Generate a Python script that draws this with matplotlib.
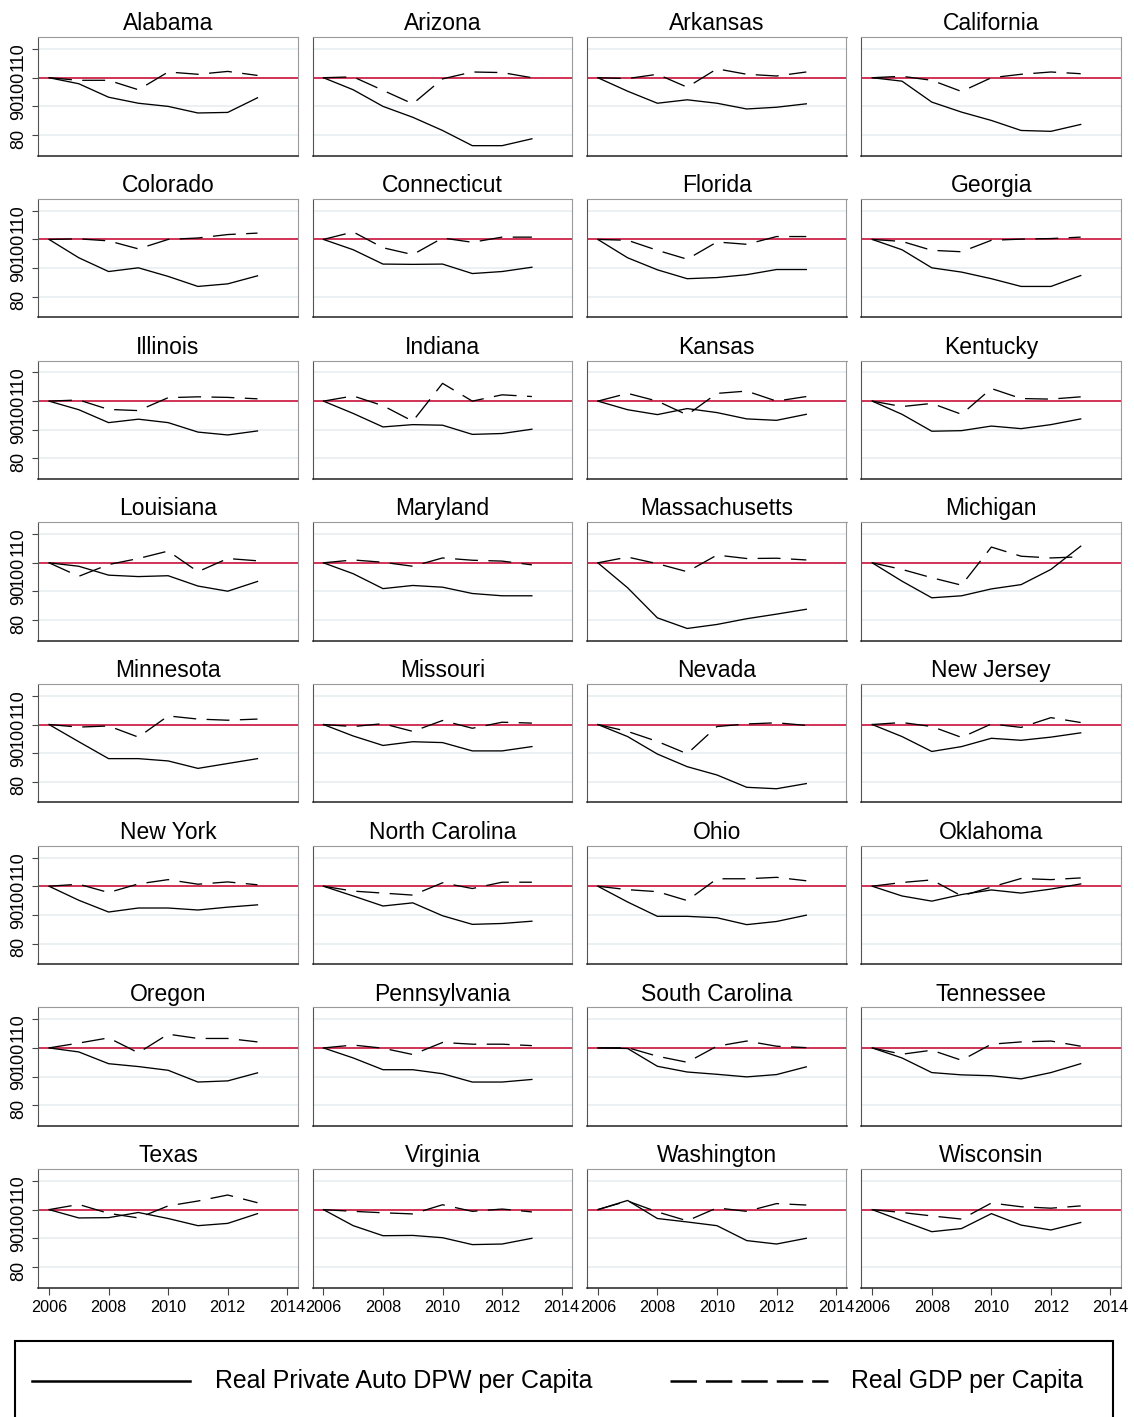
import matplotlib

matplotlib.use("Agg")
import matplotlib.pyplot as plt
from matplotlib.lines import Line2D
from matplotlib.patches import Rectangle

plt.rcParams["font.family"] = ["Liberation Sans", "DejaVu Sans"]
plt.rcParams["lines.scale_dashes"] = False

years = [2006, 2007, 2008, 2009, 2010, 2011, 2012, 2013]
x_ticks = [2006, 2008, 2010, 2012, 2014]
y_ticks = [80, 90, 100, 110]

states = [
    "Alabama", "Arizona", "Arkansas", "California",
    "Colorado", "Connecticut", "Florida", "Georgia",
    "Illinois", "Indiana", "Kansas", "Kentucky",
    "Louisiana", "Maryland", "Massachusetts", "Michigan",
    "Minnesota", "Missouri", "Nevada", "New Jersey",
    "New York", "North Carolina", "Ohio", "Oklahoma",
    "Oregon", "Pennsylvania", "South Carolina", "Tennessee",
    "Texas", "Virginia", "Washington", "Wisconsin",
]

# Real Private Auto DPW per Capita (2006 = 100), same order as states
auto_dpw = [
    [100, 97.9, 93.2, 91.1, 90.0, 87.7, 87.9, 93.0],
    [100, 95.8, 90.0, 86.2, 81.6, 76.3, 76.3, 78.7],
    [100, 95.3, 91.1, 92.3, 91.1, 89.1, 89.7, 90.9],
    [100, 98.8, 91.5, 88.0, 85.1, 81.6, 81.3, 83.7],
    [100, 93.6, 88.8, 90.1, 87.1, 83.6, 84.5, 87.3],
    [100, 96.4, 91.4, 91.3, 91.4, 88.1, 88.8, 90.3],
    [100, 93.6, 89.4, 86.3, 86.7, 87.7, 89.5, 89.5],
    [100, 96.4, 90.1, 88.6, 86.3, 83.6, 83.6, 87.4],
    [100, 97.0, 92.5, 93.7, 92.5, 89.2, 88.2, 89.6],
    [100, 95.7, 91.0, 91.8, 91.6, 88.4, 88.7, 90.2],
    [100, 97.0, 95.3, 97.4, 96.0, 93.8, 93.3, 95.4],
    [100, 95.4, 89.5, 89.7, 91.3, 90.4, 91.8, 93.8],
    [100, 98.8, 95.7, 95.2, 95.5, 91.9, 90.1, 93.5],
    [100, 96.2, 91.0, 92.1, 91.5, 89.3, 88.5, 88.5],
    [100, 91.3, 80.8, 77.1, 78.5, 80.5, 82.1, 83.8],
    [100, 93.6, 87.8, 88.5, 90.9, 92.4, 97.7, 105.8],
    [100, 94.0, 88.1, 88.1, 87.3, 84.7, 86.4, 88.1],
    [100, 96.0, 92.7, 94.0, 93.7, 90.8, 90.8, 92.3],
    [100, 95.8, 89.7, 85.3, 82.4, 78.1, 77.6, 79.4],
    [100, 95.8, 90.6, 92.3, 95.2, 94.5, 95.6, 97.1],
    [100, 95.1, 91.0, 92.4, 92.4, 91.7, 92.7, 93.5],
    [100, 96.6, 93.1, 94.2, 89.7, 86.7, 87.0, 87.8],
    [100, 94.5, 89.5, 89.5, 89.0, 86.6, 87.7, 89.9],
    [100, 96.6, 94.8, 97.1, 98.7, 97.6, 99.0, 100.8],
    [100, 98.6, 94.5, 93.5, 92.2, 88.1, 88.5, 91.3],
    [100, 96.5, 92.4, 92.4, 91.0, 88.1, 88.1, 89.0],
    [100, 99.8, 93.6, 91.6, 90.8, 89.9, 90.7, 93.4],
    [100, 96.5, 91.4, 90.6, 90.3, 89.2, 91.4, 94.5],
    [100, 97.1, 97.2, 99.0, 96.9, 94.4, 95.2, 98.6],
    [100, 94.4, 90.9, 91.0, 90.2, 87.8, 88.0, 90.0],
    [100, 103.2, 96.9, 95.7, 94.4, 89.2, 88.0, 90.0],
    [100, 96.1, 92.3, 93.4, 98.6, 94.6, 92.9, 95.5],
]

# Real GDP per Capita (2006 = 100), same order as states
real_gdp = [
    [100, 99.1, 99.1, 95.8, 102.0, 101.2, 102.2, 100.8],
    [100, 100.3, 95.6, 90.9, 99.6, 102.0, 101.8, 100.0],
    [100, 99.7, 101.2, 96.7, 103.1, 101.2, 100.6, 102.0],
    [100, 100.5, 99.1, 95.2, 100.0, 101.2, 102.0, 101.4],
    [100, 100.2, 99.5, 96.7, 100.0, 100.5, 101.7, 102.2],
    [100, 102.6, 97.1, 94.7, 100.5, 99.0, 100.8, 100.8],
    [100, 99.7, 96.2, 93.1, 99.1, 98.3, 101.0, 101.0],
    [100, 99.3, 96.2, 95.7, 99.7, 100.1, 100.3, 100.8],
    [100, 100.4, 97.1, 96.7, 101.2, 101.5, 101.3, 100.8],
    [100, 101.8, 98.4, 93.0, 106.2, 100.0, 102.2, 101.6],
    [100, 102.7, 100.0, 95.2, 102.7, 103.5, 100.0, 101.6],
    [100, 98.1, 99.2, 95.4, 104.4, 100.9, 100.7, 101.5],
    [100, 95.3, 99.4, 101.5, 104.1, 96.9, 101.5, 100.7],
    [100, 101.0, 100.2, 98.8, 101.7, 100.9, 100.6, 99.3],
    [100, 102.0, 99.7, 96.9, 102.7, 101.5, 101.6, 101.0],
    [100, 97.7, 94.8, 92.2, 105.5, 102.3, 101.7, 102.1],
    [100, 99.1, 99.5, 95.6, 103.0, 101.9, 101.5, 101.9],
    [100, 99.3, 100.3, 97.6, 101.4, 98.7, 100.8, 100.5],
    [100, 97.6, 94.1, 89.8, 99.3, 100.2, 100.6, 99.7],
    [100, 100.7, 99.3, 95.5, 100.2, 99.0, 102.4, 100.7],
    [100, 100.7, 97.8, 100.8, 102.3, 100.7, 101.5, 100.5],
    [100, 98.3, 97.6, 96.9, 101.2, 99.2, 101.4, 101.4],
    [100, 98.8, 98.1, 95.0, 102.6, 102.6, 103.1, 101.9],
    [100, 101.3, 102.2, 96.6, 99.7, 102.7, 102.3, 102.9],
    [100, 101.7, 103.5, 98.3, 104.8, 103.3, 103.3, 102.1],
    [100, 101.0, 99.9, 97.7, 101.9, 101.3, 101.3, 100.8],
    [100, 100.1, 97.1, 95.0, 100.6, 102.4, 100.6, 100.1],
    [100, 97.8, 99.2, 95.7, 101.3, 102.1, 102.4, 100.6],
    [100, 101.8, 98.7, 97.1, 101.3, 103.0, 105.1, 102.4],
    [100, 99.4, 98.9, 98.5, 101.7, 99.4, 100.2, 99.2],
    [100, 103.0, 99.2, 96.1, 100.6, 99.4, 102.1, 101.6],
    [100, 99.0, 97.8, 96.7, 102.3, 101.0, 100.5, 101.3],
]

legend_labels = ["Real Private Auto DPW per Capita", "Real GDP per Capita"]

FIG_W, FIG_H = 1134, 1417
RED = "#c8103a"
GRID = "#e8eff0"


def px_box(left, top, width, height):
    return [left / FIG_W, 1 - (top + height) / FIG_H, width / FIG_W, height / FIG_H]


fig = plt.figure(figsize=(FIG_W / 100, FIG_H / 100), dpi=100)

for i, state in enumerate(states):
    row, col = divmod(i, 4)
    ax = fig.add_axes(px_box(38.3 + col * 274.4, 37.3 + row * 161.7, 259.4, 118.4))
    ax.set_xlim(2005.64, 2014.35)
    ax.set_ylim(72.8, 114.1)

    for v in (80, 90, 110):
        ax.axhline(v, color=GRID, lw=1.2, zorder=0)
    ax.axhline(100, color=RED, lw=1.2, zorder=1)

    ax.plot(years, auto_dpw[i], color="black", lw=0.95, zorder=3)
    ax.plot(years, real_gdp[i], color="black", lw=0.95, dashes=(16.5, 7.5), zorder=3)

    ax.set_title(state, fontsize=16.5, pad=5)
    ax.set_xticks(x_ticks)
    ax.set_yticks(y_ticks)

    ax.spines["top"].set_color("#9a9a9a")
    ax.spines["right"].set_color("#9a9a9a")
    ax.spines["left"].set_color("#555555")
    ax.spines["bottom"].set_color("#222222")
    ax.spines["bottom"].set_linewidth(1.1)

    if col == 0:
        ax.tick_params(axis="y", labelrotation=90, length=4.3, width=0.8,
                       pad=4, labelsize=13, color="#444444")
    else:
        ax.tick_params(axis="y", left=False, labelleft=False)

    if row == 7:
        ax.tick_params(axis="x", length=5, width=0.8, pad=3.6,
                       labelsize=11.7, color="#444444")
    else:
        ax.tick_params(axis="x", bottom=False, labelbottom=False)

# legend box along the bottom
fig.add_artist(Rectangle((14.5 / FIG_W, 1 - 1432 / FIG_H), (1113 - 14.5) / FIG_W, 91 / FIG_H,
                         transform=fig.transFigure, fill=False, edgecolor="black", lw=1.5))
legend_y = 1 - 1381 / FIG_H
fig.add_artist(Line2D([32 / FIG_W, 190 / FIG_W], [legend_y, legend_y],
                      transform=fig.transFigure, color="black", lw=1.8))
fig.add_artist(Line2D([670 / FIG_W, 828 / FIG_W], [legend_y, legend_y],
                      transform=fig.transFigure, color="black", lw=1.8, dashes=(19, 6.5)))
fig.text(215 / FIG_W, legend_y, legend_labels[0], fontsize=17.9, va="center", ha="left")
fig.text(851 / FIG_W, legend_y, legend_labels[1], fontsize=17.9, va="center", ha="left")

fig.savefig("out.png", dpi=100)
